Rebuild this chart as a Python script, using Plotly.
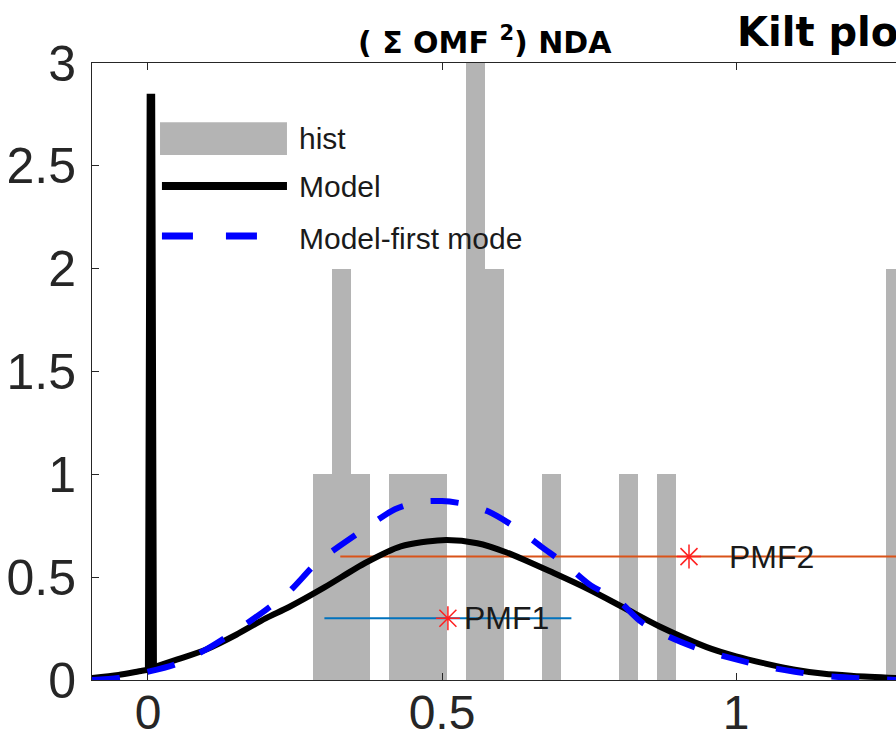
import plotly.graph_objects as go

# histogram of the NDA sums: bin centres and counts
hist_centers = [0.2968, 0.3293, 0.3618, 0.4268, 0.4592, 0.4917, 0.5567, 0.5892,
                0.6866, 0.8165, 0.8815, 1.2713]
hist_counts = [1, 2, 1, 1, 1, 1, 3, 2, 1, 1, 1, 2]
bin_width = 0.0325

# full model (point mass at zero + broad mode)
model_x = [-0.095, -0.05, -0.01, 0.002, 0.005, 0.008, 0.05, 0.10, 0.15, 0.20, 0.24, 0.30,
           0.37, 0.43, 0.50, 0.56, 0.61, 0.69, 0.75, 0.807, 0.87, 0.95, 1.0, 1.05,
           1.10, 1.15, 1.20, 1.272]
model_y = [0.01, 0.025, 0.045, 0.05, 2.85, 0.06, 0.10, 0.15, 0.22, 0.30, 0.355, 0.45,
           0.57, 0.65, 0.68, 0.665, 0.62, 0.52, 0.44, 0.355, 0.26, 0.16, 0.115, 0.08,
           0.05, 0.03, 0.02, 0.01]

# model, first mode only
first_x = [-0.095, -0.05, 0.0, 0.05, 0.10, 0.15, 0.20, 0.24, 0.287, 0.325, 0.371, 0.42,
           0.46, 0.50, 0.54, 0.578, 0.626, 0.668, 0.711, 0.753, 0.798, 0.84, 0.886,
           0.942, 1.0, 1.05, 1.10, 1.15, 1.20, 1.272]
first_y = [0.0, 0.01, 0.04, 0.08, 0.15, 0.24, 0.34, 0.43, 0.57, 0.65, 0.74, 0.83,
           0.865, 0.87, 0.855, 0.82, 0.74, 0.65, 0.56, 0.46, 0.39, 0.28, 0.21,
           0.146, 0.10, 0.065, 0.04, 0.02, 0.01, 0.0]

# PMF factors: centre, interval, height
pmf_names = ["PMF1", "PMF2"]
pmf_x = [0.51, 0.92]
pmf_lo = [0.30, 0.327]
pmf_hi = [0.72, 1.51]
pmf_y = [0.3, 0.6]
pmf_colors = ["#0072BD", "#D95319"]
pmf_label_shift = [14, 38]

GRAY = "rgb(180,180,180)"
AX = "#262626"
FONT = "Liberation Sans, Arial, sans-serif"

fig = go.Figure()

fig.add_trace(go.Bar(
    x=hist_centers, y=hist_counts, width=bin_width,
    marker=dict(color=GRAY, line=dict(width=0)),
    hoverinfo="skip",
))

for name, lo, hi, yv, col in zip(pmf_names, pmf_lo, pmf_hi, pmf_y, pmf_colors):
    fig.add_trace(go.Scatter(
        x=[lo, hi], y=[yv, yv], mode="lines",
        line=dict(color=col, width=2),
        hoverinfo="skip",
    ))

# model curve: smooth parts either side of the spike at zero
ip = model_y.index(max(model_y))
model_line = dict(color="black", width=6)
fig.add_trace(go.Scatter(x=model_x[:ip], y=model_y[:ip], mode="lines",
                         line=dict(model_line, shape="spline", smoothing=0.8)))
fig.add_trace(go.Scatter(x=model_x[ip - 1:ip + 2], y=model_y[ip - 1:ip + 2],
                         mode="lines", line=dict(color="black", width=8.5)))
fig.add_trace(go.Scatter(x=model_x[ip + 1:], y=model_y[ip + 1:], mode="lines",
                         line=dict(model_line, shape="spline", smoothing=0.8)))

fig.add_trace(go.Scatter(
    x=first_x, y=first_y, mode="lines",
    line=dict(color="#0000FF", width=6, dash="28px,28px", shape="spline", smoothing=0.8),
))

fig.add_trace(go.Scatter(
    x=pmf_x, y=pmf_y, mode="markers",
    marker=dict(symbol="asterisk-open", size=20, color="#FF2020",
                line=dict(color="#FF2020", width=1.5)),
))

for name, xv, yv, sh in zip(pmf_names, pmf_x, pmf_y, pmf_label_shift):
    fig.add_annotation(x=xv, y=yv, text=name, showarrow=False,
                       xanchor="left", yanchor="middle", xshift=sh,
                       font=dict(family=FONT, size=32, color="#1a1a1a"))

# hand drawn legend, top left inside the axes
fig.add_shape(type="rect", xref="x domain", yref="y domain",
              x0=0.0846, x1=0.2425, y0=0.851, y1=0.904,
              fillcolor=GRAY, line=dict(width=0))
fig.add_shape(type="line", xref="x domain", yref="y domain",
              x0=0.087, x1=0.2425, y0=0.8006, y1=0.8006,
              line=dict(color="black", width=8))
fig.add_shape(type="line", xref="x domain", yref="y domain",
              x0=0.087, x1=0.2052, y0=0.7196, y1=0.7196,
              line=dict(color="#0000FF", width=7, dash="31px,33px"))
for txt, yv in [("hist", 0.877), ("Model", 0.8006), ("Model-first mode", 0.715)]:
    fig.add_annotation(xref="x domain", yref="y domain", x=0.2553, y=yv,
                       text=txt, showarrow=False, xanchor="left", yanchor="middle",
                       font=dict(family=FONT, size=30, color="#1a1a1a"))

# titles above the axes
fig.add_annotation(xref="x", yref="paper", x=0.573, y=1.036,
                   text="( \u03a3 OMF <sup>2</sup>) NDA", showarrow=False,
                   xanchor="center", yanchor="middle",
                   font=dict(family="DejaVu Sans", size=30, color="black", weight="bold"))
fig.add_annotation(xref="x", yref="paper", x=0.998, y=1.05,
                   text="Kilt plot", showarrow=False,
                   xanchor="left", yanchor="middle",
                   font=dict(family="DejaVu Sans", size=40, color="black", weight="bold"))

fig.update_layout(
    width=896, height=744,
    margin=dict(l=92, r=0, t=63, b=64, autoexpand=False),
    paper_bgcolor="white", plot_bgcolor="white",
    showlegend=False,
    bargap=0,
    xaxis=dict(
        range=[-0.0952, 1.272], tickvals=[0, 0.5, 1], ticktext=["0", "0.5", "1"],
        ticks="inside", ticklen=7, tickcolor=AX, tickwidth=1,
        showline=True, linecolor=AX, linewidth=1, mirror="ticks",
        showgrid=False, zeroline=False, ticklabelstandoff=-10, automargin=False,
        tickfont=dict(family=FONT, size=48, color=AX),
    ),
    yaxis=dict(
        range=[0, 3], tickvals=[0, 0.5, 1, 1.5, 2, 2.5, 3],
        ticktext=["0", "0.5", "1", "1.5", "2", "2.5", "3"],
        ticks="inside", ticklen=7, tickcolor=AX, tickwidth=1,
        showline=True, linecolor=AX, linewidth=1, mirror=False,
        showgrid=False, zeroline=False, ticklabelstandoff=5, automargin=False,
        tickfont=dict(family=FONT, size=50, color=AX),
    ),
)

fig.write_html("out.html",
               config={"displayModeBar": False},
               post_script="document.body.style.margin='0';"
                           "document.body.style.overflow='hidden';")
